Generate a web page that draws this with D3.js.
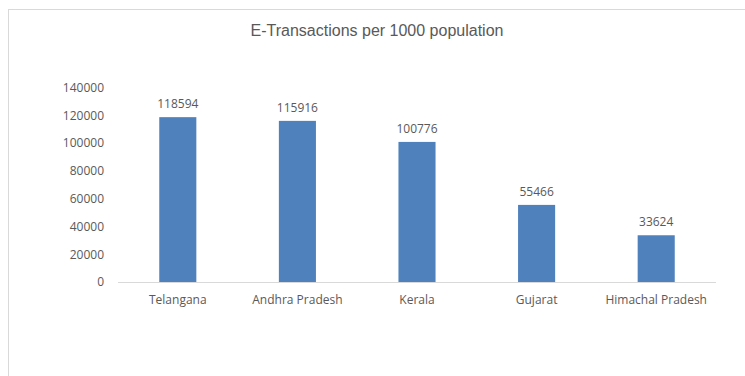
<!DOCTYPE html>
<html>
<head>
<meta charset="utf-8">
<script src="https://cdn.jsdelivr.net/npm/d3@7"></script>
<style>
  html, body { margin: 0; padding: 0; background: #fff; }
  svg { display: block; }
</style>
</head>
<body>
<script>
// E-transactions per 1000 population, by state
const states = ["Telangana", "Andhra Pradesh", "Kerala", "Gujarat", "Himachal Pradesh"];
const transactions = [118594, 115916, 100776, 55466, 33624];
const yTicks = [0, 20000, 40000, 60000, 80000, 100000, 120000, 140000];
const chartTitle = "E-Transactions per 1000 population";

const W = 745, H = 376;
const plot = { left: 118, right: 716, top: 87.4, bottom: 282 };
const textColor = "#595959";
const barColor = "#4f81bd";
const labelFont = "'Open Sans', sans-serif";

const svg = d3.select("body").append("svg")
  .attr("width", W).attr("height", H);

// chart frame
svg.append("rect")
  .attr("x", 8.5).attr("y", 9.5)
  .attr("width", W + 10).attr("height", H + 10)
  .attr("fill", "none").attr("stroke", "#d9d9d9");

svg.append("text")
  .attr("x", 377).attr("y", 36)
  .attr("text-anchor", "middle")
  .attr("font-family", "'Liberation Sans', Arial, sans-serif")
  .attr("font-size", 16)
  .attr("fill", textColor)
  .text(chartTitle);

const x = d3.scaleBand()
  .domain(states)
  .range([plot.left, plot.right])
  .paddingInner(0.69)
  .paddingOuter(0.345);

const y = d3.scaleLinear()
  .domain([0, 140000])
  .range([plot.bottom, plot.top]);

// y axis labels (no line)
const yAxis = svg.append("g")
  .attr("transform", `translate(${plot.left - 14},0)`)
  .call(d3.axisLeft(y).tickValues(yTicks).tickSize(0).tickPadding(0).tickFormat(d3.format("d")));
yAxis.select(".domain").remove();
yAxis.selectAll("text")
  .attr("font-family", labelFont).attr("font-size", 12).attr("fill", textColor);

// bars
svg.append("g").selectAll("rect")
  .data(transactions)
  .join("rect")
  .attr("x", (d, i) => x(states[i]))
  .attr("width", x.bandwidth())
  .attr("y", d => y(d))
  .attr("height", d => y(0) - y(d))
  .attr("fill", barColor);

// value labels
svg.append("g").selectAll("text")
  .data(transactions)
  .join("text")
  .attr("x", (d, i) => x(states[i]) + x.bandwidth() / 2)
  .attr("y", d => y(d) - 9)
  .attr("text-anchor", "middle")
  .attr("font-family", labelFont).attr("font-size", 12)
  .attr("fill", textColor)
  .text(d => d);

// category axis
const xAxis = svg.append("g")
  .attr("transform", `translate(0,${plot.bottom})`)
  .call(d3.axisBottom(x).tickSize(0).tickPadding(13));
xAxis.select(".domain")
  .attr("stroke", "#d9d9d9")
  .attr("d", `M${plot.left},0.5H${plot.right}`);
xAxis.selectAll("text")
  .attr("font-family", labelFont).attr("font-size", 12).attr("fill", textColor);
</script>
</body>
</html>
